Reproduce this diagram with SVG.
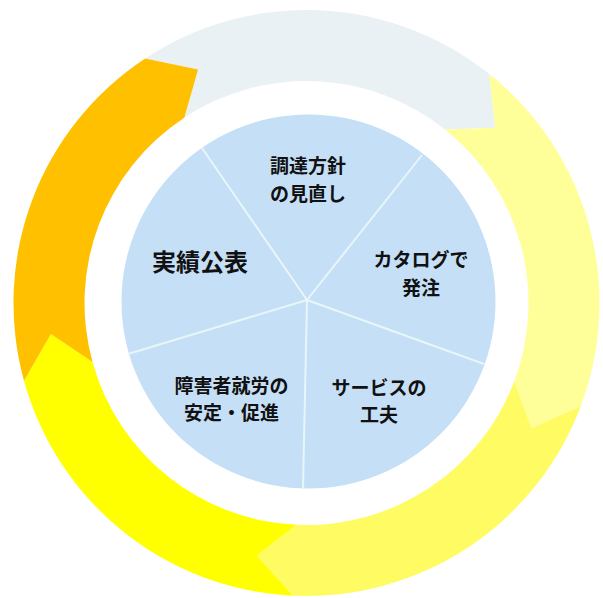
<svg xmlns="http://www.w3.org/2000/svg" width="603" height="598" viewBox="0 0 603 598">
  <style>
    .lbl { font-family: "Noto Sans CJK JP", "Noto Sans", sans-serif; font-weight: bold; font-size: 19px; fill: #111; text-anchor: middle; }
    .big { font-size: 24px; }
    .div { stroke: #e8f6fa; stroke-width: 2; }
  </style>
  <rect width="603" height="598" fill="#ffffff"/>
  <g id="connectors">
    <path id="arrow-top" fill="#eaf1f5" d="M145.2,58.4 A293,293 0 0 1 489.3,74.0 L495.1,127.7 L445.0,129.5 A222,222 0 0 0 184.3,117.7 L198.1,69.4 Z"/>
    <path id="arrow-right" fill="#ffff99" d="M489.3,74.0 A293,293 0 0 1 580.8,406.1 L531.5,428.2 L514.3,381.1 A222,222 0 0 0 445.0,129.5 L495.1,127.7 Z"/>
    <path id="arrow-bottom-right" fill="#fffb63" d="M580.8,406.1 A293,293 0 0 1 293.2,595.7 L256.9,555.7 L296.4,524.8 A222,222 0 0 0 514.3,381.1 L531.5,428.2 Z"/>
    <path id="arrow-bottom-left" fill="#ffff00" d="M293.2,595.7 A293,293 0 0 1 24.0,380.8 L50.9,333.9 L92.5,362.0 A222,222 0 0 0 296.4,524.8 L256.9,555.7 Z"/>
    <path id="arrow-left" fill="#ffc000" d="M24.0,380.8 A293,293 0 0 1 145.2,58.4 L198.1,69.4 L184.3,117.7 A222,222 0 0 0 92.5,362.0 L50.9,333.9 Z"/>
  </g>
  <g id="pie">
    <circle cx="308.5" cy="301.5" r="187" fill="#c5dff7"/>
    <line class="div" x1="307" y1="300" x2="202" y2="148"/>
    <line class="div" x1="307" y1="300" x2="422" y2="155"/>
    <line class="div" x1="307" y1="300" x2="484" y2="364"/>
    <line class="div" x1="307" y1="300" x2="303" y2="488"/>
    <line class="div" x1="307" y1="300" x2="128" y2="354"/>
  </g>
  <g id="node-policy">
    <text class="lbl" x="308" y="173.2">調達方針</text>
    <text class="lbl" x="308" y="200.8">の見直し</text>
  </g>
  <g id="node-catalog">
    <text class="lbl" x="421" y="267.2">カタログで</text>
    <text class="lbl" x="421" y="294.8">発注</text>
  </g>
  <g id="node-service">
    <text class="lbl" x="379" y="394.7">サービスの</text>
    <text class="lbl" x="379" y="422.3">工夫</text>
  </g>
  <g id="node-employment">
    <text class="lbl" x="231.5" y="392.7">障害者就労の</text>
    <text class="lbl" x="231.5" y="420.3">安定・促進</text>
  </g>
  <g id="node-results">
    <text class="lbl big" x="200" y="271">実績公表</text>
  </g>
</svg>
